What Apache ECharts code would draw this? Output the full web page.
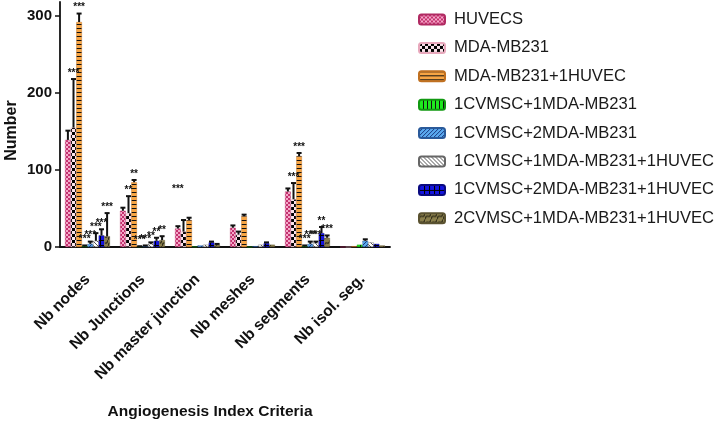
<!DOCTYPE html>
<html><head><meta charset="utf-8">
<script src="https://cdn.jsdelivr.net/npm/echarts@6/dist/echarts.min.js"></script>
<style>html,body{margin:0;padding:0;background:#fff}#c{width:717px;height:421px}</style>
</head><body><div id="c"></div>
<script>
// ---------- data ----------
const categories = ['Nb nodes', 'Nb Junctions', 'Nb master junction', 'Nb meshes', 'Nb segments', 'Nb isol. seg.'];
const seriesNames = ['HUVECS', 'MDA-MB231', 'MDA-MB231+1HUVEC', '1CVMSC+1MDA-MB231', '1CVMSC+2MDA-MB231',
  '1CVMSC+1MDA-MB231+1HUVEC', '1CVMSC+2MDA-MB231+1HUVEC', '2CVMSC+1MDA-MB231+1HUVEC'];
const yTicks = [0, 100, 200, 300];

const huvecs        = [139, 47, 24, 25, 72, 0];
const huvecsErr     = [12, 4, 3, 3, 4, 0];
const huvecsSig     = ['', '', '', '', '', ''];
const mda           = [155, 44, 20, 16, 62, 0];
const mdaErr        = [63, 22, 15, 4, 21, 0];
const mdaSig        = ['***', '**', '', '', '***', ''];
const mdaHuv        = [292, 84, 35, 40, 118, 1];
const mdaHuvErr     = [11, 3, 3, 2, 4, 0];
const mdaHuvSig     = ['***', '**', '', '', '***', ''];
const c1m1          = [1, 0.5, 0.5, 0, 1, 3];
const c1m1Err       = [1, 0.5, 0, 0, 1, 0];
const c1m1Sig       = ['***', '***', '', '', '***', ''];
const c1m2          = [4, 1, 2, 1, 4, 8];
const c1m2Err       = [3, 1, 0, 0, 3, 2];
const c1m2Sig       = ['***', '***', '', '', '***', ''];
const c1m1h         = [8, 4, 3, 3, 5, 6];
const c1m1hErr      = [10, 2, 0, 0, 2, 0];
const c1m1hSig      = ['***', '**', '', '', '***', ''];
const c1m2h         = [15, 8, 6, 5, 18, 4];
const c1m2hErr      = [8, 4, 1, 1, 8, 0];
const c1m2hSig      = ['***', '**', '', '', '**', ''];
const c2m1h         = [14, 9, 3, 3, 12, 2];
const c2m1hErr      = [30, 5, 1, 0, 3, 0];
const c2m1hSig      = ['***', '**', '', '', '***', ''];
// a lone "***" drawn well above the HUVECS bar of "Nb master junction"
const floatingNote = { series: 0, category: 2, text: '***', value: 68 };

const values = [huvecs, mda, mdaHuv, c1m1, c1m2, c1m1h, c1m2h, c2m1h];
const errors = [huvecsErr, mdaErr, mdaHuvErr, c1m1Err, c1m2Err, c1m1hErr, c1m2hErr, c2m1hErr];
const sigs   = [huvecsSig, mdaSig, mdaHuvSig, c1m1Sig, c1m2Sig, c1m1hSig, c1m2hSig, c2m1hSig];

// ---------- patterns ----------
function pat(w, h, draw) {
  const c = document.createElement('canvas'); c.width = w; c.height = h;
  const g = c.getContext('2d'); draw(g);
  return { image: c, repeat: 'repeat' };
}
const patterns = [
  pat(4, 4, g => { g.fillStyle = '#c4306e'; g.fillRect(0, 0, 4, 4); g.fillStyle = '#f4a9c9'; g.fillRect(0, 0, 2, 2); g.fillRect(2, 2, 2, 2); }),
  pat(6, 6, g => { g.fillStyle = '#fce4ec'; g.fillRect(0, 0, 6, 6); g.fillStyle = '#000'; g.fillRect(0, 0, 3, 3); g.fillRect(3, 3, 3, 3); }),
  pat(4, 4, g => { g.fillStyle = '#f7a544'; g.fillRect(0, 0, 4, 4); g.fillStyle = '#111'; g.fillRect(0, 0, 4, 1); }),
  pat(4, 4, g => { g.fillStyle = '#1ee81e'; g.fillRect(0, 0, 4, 4); g.fillStyle = '#111'; g.fillRect(0, 0, 1, 4); }),
  pat(4, 4, g => { g.fillStyle = '#5aa9ef'; g.fillRect(0, 0, 4, 4); g.fillStyle = '#1b3a80'; for (let i = 0; i < 4; i++) g.fillRect(3 - i, i, 1, 1); }),
  pat(4, 4, g => { g.fillStyle = '#ffffff'; g.fillRect(0, 0, 4, 4); g.fillStyle = '#555'; for (let i = 0; i < 4; i++) g.fillRect(i, i, 1, 1); }),
  pat(5, 5, g => { g.fillStyle = '#1515e0'; g.fillRect(0, 0, 5, 5); g.fillStyle = '#000'; g.fillRect(0, 0, 5, 1); g.fillRect(0, 0, 1, 5); }),
  pat(6, 6, g => { g.fillStyle = '#8a7f4c'; g.fillRect(0, 0, 6, 6); g.strokeStyle = '#2e2a18'; g.lineWidth = 1.2;
    g.beginPath(); g.moveTo(0, 6); g.quadraticCurveTo(1, 2, 3, 3); g.quadraticCurveTo(5, 4, 6, 0); g.stroke(); })
];
const borders = ['#b02a62', '#e8a8bc', '#c07020', '#119911', '#2a5a9a', '#666', '#0a0a80', '#5a5230'];

const BW = 5.6;
const series = [];
values.forEach((vals, k) => {
  series.push({
    name: seriesNames[k], type: 'bar', data: vals, barWidth: BW, barGap: '0%',
    itemStyle: { color: patterns[k], borderColor: borders[k], borderWidth: 0.4 },
    z: 2
  });
});
values.forEach((vals, k) => {
  series.push({
    name: 'err' + k, type: 'custom', z: 5, silent: true,
    data: vals.map((v, i) => [i, v, errors[k][i]]),
    renderItem: function (params, api) {
      const i = params.dataIndex;
      const v = api.value(1), e = api.value(2);
      const base = api.coord([api.value(0), v]);
      const x = base[0] + (k - 3.5) * BW;
      const top = api.coord([api.value(0), v + e])[1];
      const ch = [];
      if (e > 0) {
        ch.push({ type: 'line', shape: { x1: x, y1: base[1], x2: x, y2: top }, style: { stroke: '#111', lineWidth: 2 } });
        ch.push({ type: 'line', shape: { x1: x - 2.5, y1: top, x2: x + 2.5, y2: top }, style: { stroke: '#111', lineWidth: 2 } });
      }
      const s = sigs[k][i];
      if (s) ch.push({ type: 'text', style: { text: s, x: x, y: top - 1, align: 'center', verticalAlign: 'bottom', font: 'bold 10px Arial', fill: '#111' } });
      if (k === floatingNote.series && i === floatingNote.category) {
        const ny = api.coord([api.value(0), floatingNote.value])[1];
        ch.push({ type: 'text', style: { text: floatingNote.text, x: x, y: ny, align: 'center', verticalAlign: 'bottom', font: 'bold 10px Arial', fill: '#111' } });
      }
      return { type: 'group', children: ch };
    }
  });
});

const chart = echarts.init(document.getElementById('c'), null, { renderer: 'canvas' });
chart.setOption({
  backgroundColor: '#fff',
  animation: false,
  grid: { left: 60, right: 327, top: 2, bottom: 174, containLabel: false, outerBoundsMode: 'none' },
  legend: {
    data: seriesNames, orient: 'vertical', left: 413, top: 6,
    itemWidth: 26, itemHeight: 10, itemGap: 11.4,
    textStyle: { fontFamily: 'Liberation Sans, Arial', fontSize: 16.6, color: '#1a1a1a', lineHeight: 16, padding: [0, 0, 0, 4] }
  },
  xAxis: {
    type: 'category', data: categories,
    axisLine: { lineStyle: { color: '#111', width: 1.8 } },
    axisTick: { alignWithLabel: true, length: 7, lineStyle: { color: '#111', width: 1.5 } },
    axisLabel: { rotate: 45, margin: 30, interval: 0, fontFamily: 'Liberation Sans, Arial', fontWeight: 'bold', fontSize: 15.6, color: '#111' },
    name: 'Angiogenesis Index Criteria', nameLocation: 'middle', nameGap: 157, nameMoveOverlap: false,
    nameTextStyle: { fontFamily: 'Liberation Sans, Arial', fontWeight: 'bold', fontSize: 15.5, color: '#111', padding: [0, 30, 0, 0] }
  },
  yAxis: {
    type: 'value', min: 0, max: 318,
    axisLine: { show: true, lineStyle: { color: '#111', width: 1.8 } },
    axisTick: { show: true, length: 5, customValues: yTicks, lineStyle: { color: '#111', width: 1.5 } },
    axisLabel: { customValues: yTicks, margin: 8, fontFamily: 'Liberation Sans, Arial', fontWeight: 'bold', fontSize: 15, color: '#111' },
    splitLine: { show: false },
    name: 'Number', nameLocation: 'middle', nameGap: 40,
    nameTextStyle: { fontFamily: 'Liberation Sans, Arial', fontWeight: 'bold', fontSize: 16, color: '#111', padding: [0, 12, 0, 0] }
  },
  series: series
});
</script>
</body></html>
